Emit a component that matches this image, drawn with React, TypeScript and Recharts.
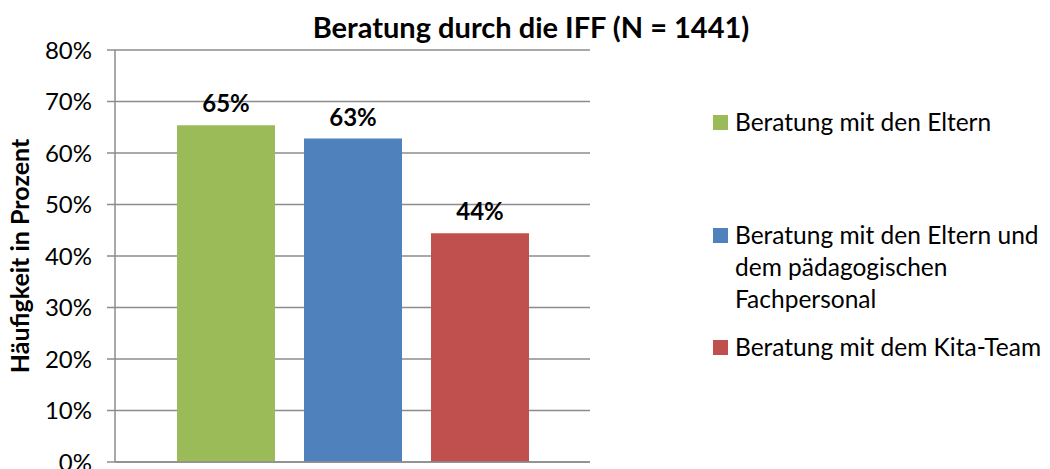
import { Bar, BarChart, CartesianGrid, LabelList, XAxis, YAxis } from 'recharts';

document.body.style.margin = '0';

const FONT = 'Lato, "Open Sans", sans-serif';
const GRID = '#8c8c8c';

const seriesKeys = ['eltern', 'elternPaed', 'kita'];
const seriesNames = [
  'Beratung mit den Eltern',
  'Beratung mit den Eltern und dem pädagogischen Fachpersonal',
  'Beratung mit dem Kita-Team',
];
const seriesColors = ['#9BBB59', '#4F81BD', '#C0504D'];
const seriesValues = [65.4, 62.8, 44.4];
const yTicks = [0, 10, 20, 30, 40, 50, 60, 70, 80];

const data = [
  seriesKeys.reduce<Record<string, number | string>>(
    (row, k, i) => {
      row[k] = seriesValues[i];
      return row;
    },
    { name: '' },
  ),
];

const legendGaps = [0, 81, 16];

function SideLegend() {
  return (
    <div style={{ position: 'absolute', left: 713, top: 106, fontFamily: FONT, fontSize: 24.5, color: '#000' }}>
      {seriesNames.map((n, i) => (
        <div key={n} style={{ display: 'flex', alignItems: 'flex-start', marginTop: legendGaps[i] }}>
          <div style={{ width: 15, height: 15, background: seriesColors[i], marginTop: 9, marginRight: 7, flex: 'none' }} />
          <div style={{ width: 315, lineHeight: '32px' }}>{n}</div>
        </div>
      ))}
    </div>
  );
}

export default function App() {
  return (
    <div style={{ position: 'relative', width: 1050, height: 469, background: '#fff', overflow: 'hidden' }}>
      <div
        style={{
          position: 'absolute',
          left: 281,
          width: 500,
          top: 10,
          lineHeight: '34px',
          textAlign: 'center',
          fontFamily: FONT,
          fontWeight: 700,
          fontSize: 29,
          whiteSpace: 'nowrap',
          zIndex: 1,
        }}
      >
        Beratung durch die IFF (N = 1441)
      </div>
      <SideLegend />
      <BarChart
        width={1050}
        height={469}
        data={data}
        margin={{ top: 50, right: 460, bottom: 6, left: 8 }}
        barGap={29}
        barSize={98}
      >
        <CartesianGrid vertical={false} stroke={GRID} strokeWidth={1.5} />
        <XAxis dataKey="name" tick={false} height={1} axisLine={{ stroke: GRID, strokeWidth: 1.5 }} tickLine={false} />
        <YAxis
          width={107}
          domain={[0, 80]}
          ticks={yTicks}
          interval={0}
          tickFormatter={(v: number) => `${v}%`}
          tick={{ fill: '#000', fontSize: 24, fontFamily: FONT }}
          tickSize={8}
          tickMargin={15}
          axisLine={{ stroke: GRID, strokeWidth: 1.5 }}
          tickLine={{ stroke: GRID, strokeWidth: 1.5 }}
          label={{
            value: 'Häufigkeit in Prozent',
            angle: -90,
            position: 'insideLeft',
            offset: 12,
            style: { textAnchor: 'middle', fill: '#000', fontWeight: 700, fontSize: 25, fontFamily: FONT },
          }}
        />
        {seriesKeys.map((k, i) => (
          <Bar key={k} dataKey={k} name={seriesNames[i]} fill={seriesColors[i]} isAnimationActive={false}>
            <LabelList
              dataKey={k}
              position="top"
              offset={13}
              formatter={(v: number) => `${Math.round(v)}%`}
              style={{ fill: '#000', fontWeight: 700, fontSize: 24, fontFamily: FONT }}
            />
          </Bar>
        ))}
      </BarChart>
    </div>
  );
}
